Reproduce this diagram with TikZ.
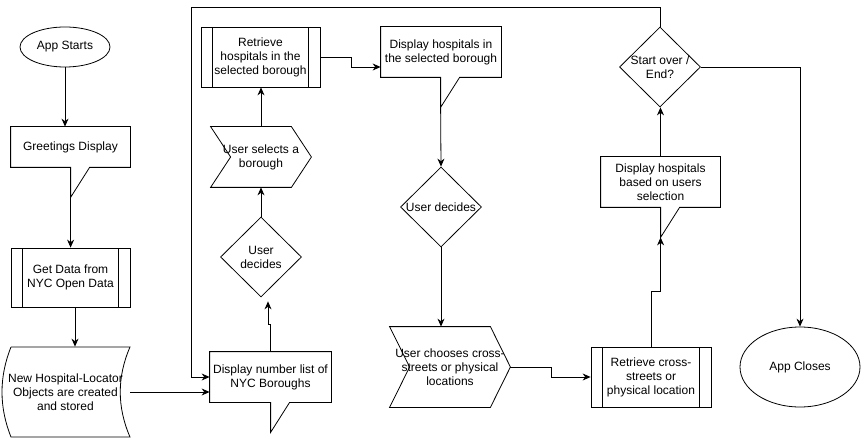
\documentclass[tikz,border=0pt]{standalone}
\usepackage{fontspec}
\setmainfont{Liberation Sans}
\usetikzlibrary{shapes.geometric,arrows.meta}

\tikzset{
  every node/.style={font=\fontsize{12}{14}\selectfont},
  startstop/.style={draw,ellipse,inner sep=0pt},
  callbox/.style={rectangle,inner sep=1pt},
  procbox/.style={draw,rectangle,inner sep=1pt,
    path picture={
      \draw ([xshift=11.5pt]path picture bounding box.north west) -- ([xshift=11.5pt]path picture bounding box.south west);
      \draw ([xshift=-11.5pt]path picture bounding box.north east) -- ([xshift=-11.5pt]path picture bounding box.south east);
    }},
  stepbox/.style={rectangle,inner sep=1pt},
  choice/.style={draw,diamond,inner sep=0pt,minimum width=81,minimum height=80},
  arr/.style={-{Stealth[length=8pt,width=7pt]}}
}

% speech box: node, left and right offset of the pointer, name of its tip
\newcommand{\speech}[4]{%
  \draw (#1.south west) -- (#1.north west) -- (#1.north east) -- (#1.south east)
    -- ([xshift=#3]#1.south west) -- ([xshift=#2,yshift=-30]#1.south west) coordinate (#4)
    -- ([xshift=#2]#1.south west) -- cycle;}

% step shape round a node
\newcommand{\chevron}[1]{%
  \draw ([xshift=20]#1.west) -- (#1.north west) -- ([xshift=-20]#1.north east) -- (#1.east)
    -- ([xshift=-20]#1.south east) -- (#1.south west) -- cycle;}

\begin{document}
\begin{tikzpicture}[x=1pt,y=-1pt,thick,every text node part/.style={align=center}]
  \useasboundingbox (0,0) rectangle (861,438);

  % --------------------------------------------------------- %
  % ------------- left column
  % --------------------------------------------------------- %
  \node[startstop,minimum width=90,minimum height=40] (start) at (65,47) {App Starts};

  \node[callbox,minimum width=119,minimum height=40] (greet) at (70.5,147) {Greetings Display};
  \speech{greet}{60}{79}{gtip}

  \node[procbox,minimum width=119,minimum height=59] (getdata) at (70.5,277.5) {Get Data from\\NYC Open Data};

  \node[minimum width=129,minimum height=90,inner sep=1pt] (objs) at (65.5,392) {New Hospital-Locator\\Objects are created\\and stored};
  \draw (11,347) -- (130,347) .. controls (117,377) and (117,407) .. (130,437) -- (11,437)
    .. controls (-1,407) and (-1,377) .. (11,347);

  \draw[arr] (start.south) -- (start.south |- greet.north);
  \draw[arr] (gtip) -- (gtip |- getdata.north);
  \coordinate (gd) at ([xshift=4.5]getdata.south);
  \draw[arr] (gd) -- (gd |- objs.north);

  % --------------------------------------------------------- %
  % ------------- borough column
  % --------------------------------------------------------- %
  \node[callbox,minimum width=121,minimum height=50] (nums) at (270.5,377) {Display number list of\\NYC Boroughs};
  \speech{nums}{61}{80}{ntip}

  \node[choice,label={[align=center]center:User\\decides}] (ud1) at (261,257) {};

  \node[stepbox,minimum width=100,minimum height=60] (sel) at (261,157) {User selects a\\borough};
  \chevron{sel}

  \node[procbox,minimum width=119,minimum height=60] (ret1) at (260.5,57) {Retrieve\\hospitals in the\\selected borough};

  \draw[arr] (objs.east) -- (objs.east -| nums.west);
  \draw[arr] (nums.north) -- ++(0,-27) -| ([xshift=7,yshift=-4]ud1.south);
  \draw[arr] (ud1.north) -- (sel.south);
  \draw[arr] (sel.north) -- (sel.north |- ret1.south);

  % --------------------------------------------------------- %
  % ------------- hospital column
  % --------------------------------------------------------- %
  \node[callbox,minimum width=120,minimum height=50] (disp1) at (441,52) {Display hospitals in\\the selected borough};
  \speech{disp1}{60}{79}{dtip1}

  \node[choice,label={center:User decides}] (ud2) at (441,207) {};

  \node[stepbox,minimum width=120,minimum height=80] (choose) at (450,367) {User chooses cross-\\streets or physical\\locations};
  \chevron{choose}

  \draw[arr] (ret1.east) -- ++(31,0) |- ([yshift=-15]disp1.west);
  \draw[arr] (dtip1) -- (ud2.north);
  \draw[arr] (ud2.south) -- (ud2.south |- choose.north);

  % --------------------------------------------------------- %
  % ------------- right column
  % --------------------------------------------------------- %
  \node[procbox,minimum width=120,minimum height=60] (ret2) at (651,377) {Retrieve cross-\\streets or\\physical location};

  \node[callbox,minimum width=119,minimum height=50] (disp2) at (660.5,182) {Display hospitals\\based on users\\selection};
  \speech{disp2}{60}{79}{dtip2}

  \node[choice,label={[align=center]center:Start over /\\End?}] (endq) at (660,67) {};

  \node[startstop,minimum width=120,minimum height=80] (close) at (800,367) {App Closes};

  \draw[arr] (choose.east) -- ++(41,0) |- (ret2.west);
  \draw[arr] (ret2.north) -- ++(0,-55) -| (dtip2);
  \draw[arr] (disp2.north) -- (disp2.north |- endq.south);
  \draw[arr] (endq.east) -| (close.north);
  \draw[arr] (endq.north) |- (191,7) |- (nums.west);

\end{tikzpicture}
\end{document}
